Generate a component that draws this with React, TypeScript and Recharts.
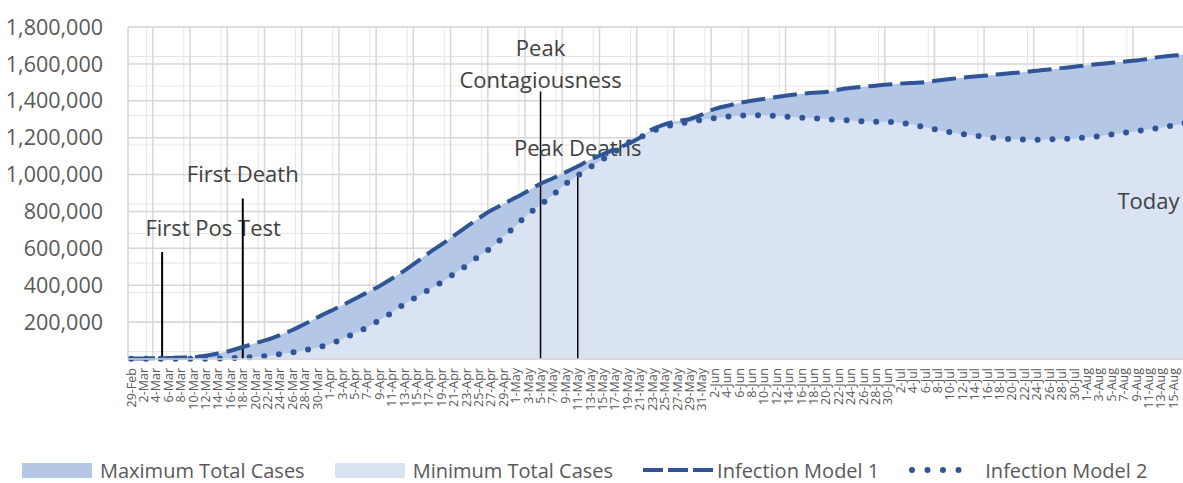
import { ComposedChart, Area, Line, XAxis, YAxis, CartesianGrid, ReferenceLine } from 'recharts';

// one label every 2 days, 29-Feb .. 17-Aug
const dateLabels = [
  '29-Feb', '2-Mar', '4-Mar', '6-Mar', '8-Mar', '10-Mar', '12-Mar', '14-Mar', '16-Mar', '18-Mar',
  '20-Mar', '22-Mar', '24-Mar', '26-Mar', '28-Mar', '30-Mar', '1-Apr', '3-Apr', '5-Apr', '7-Apr',
  '9-Apr', '11-Apr', '13-Apr', '15-Apr', '17-Apr', '19-Apr', '21-Apr', '23-Apr', '25-Apr', '27-Apr',
  '29-Apr', '1-May', '3-May', '5-May', '7-May', '9-May', '11-May', '13-May', '15-May', '17-May',
  '19-May', '21-May', '23-May', '25-May', '27-May', '29-May', '31-May', '2-Jun', '4-Jun', '6-Jun',
  '8-Jun', '10-Jun', '12-Jun', '14-Jun', '16-Jun', '18-Jun', '20-Jun', '22-Jun', '24-Jun', '26-Jun',
  '28-Jun', '30-Jun', '2-Jul', '4-Jul', '6-Jul', '8-Jul', '10-Jul', '12-Jul', '14-Jul', '16-Jul',
  '18-Jul', '20-Jul', '22-Jul', '24-Jul', '26-Jul', '28-Jul', '30-Jul', '1-Aug', '3-Aug', '5-Aug',
  '7-Aug', '9-Aug', '11-Aug', '13-Aug', '15-Aug', '17-Aug',
];

const infectionModel1 = [
  3000, 3000, 4000, 5000, 8000, 10000, 18000, 30000, 45000, 65000,
  85000, 105000, 130000, 157000, 190000, 225000, 258000, 290000, 325000, 360000,
  395000, 435000, 478000, 525000, 575000, 620000, 668000, 715000, 762000, 805000,
  840000, 875000, 912000, 950000, 980000, 1012000, 1045000, 1080000, 1110000, 1138000,
  1165000, 1200000, 1245000, 1272000, 1290000, 1300000, 1325000, 1355000, 1372000, 1388000,
  1400000, 1410000, 1420000, 1430000, 1438000, 1443000, 1448000, 1460000, 1469000, 1476000,
  1482000, 1488000, 1493000, 1497000, 1501000, 1510000, 1518000, 1525000, 1532000, 1537000,
  1544000, 1550000, 1556000, 1563000, 1570000, 1577000, 1585000, 1592000, 1600000, 1606000,
  1612000, 1618000, 1628000, 1638000, 1645000, 1650000,
];

const infectionModel2 = [
  1000, 1000, 1000, 1000, 1000, 1000, 2000, 3000, 4000, 7000,
  11000, 16000, 26000, 35000, 48000, 63000, 80000, 108000, 138000, 170000,
  210000, 250000, 297000, 336000, 376000, 415000, 460000, 505000, 555000, 602000,
  661000, 722000, 785000, 836000, 890000, 948000, 995000, 1040000, 1082000, 1125000,
  1170000, 1200000, 1235000, 1258000, 1275000, 1284000, 1297000, 1306000, 1314000, 1318000,
  1322000, 1322000, 1318000, 1313000, 1309000, 1305000, 1301000, 1297000, 1293000, 1289000,
  1286000, 1285000, 1280000, 1271000, 1256000, 1242000, 1230000, 1219000, 1212000, 1203000,
  1196000, 1192000, 1190000, 1188000, 1191000, 1192000, 1196000, 1201000, 1208000, 1217000,
  1226000, 1235000, 1245000, 1254000, 1266000, 1280000,
];

const yTicks = [0, 200000, 400000, 600000, 800000, 1000000, 1200000, 1400000, 1600000, 1800000];

// annotation: day index (days after 29-Feb), height of marker line
const events = [
  { name: ['First Pos Test'], day: 5, top: 580000, shift: 51, gap: 25, width: 2 },
  { name: ['First Death'], day: 18, top: 870000, shift: 0, gap: 26, width: 2 },
  { name: ['Peak', 'Contagiousness'], day: 66, top: 1450000, shift: 0, gap: 13, width: 1.5 },
  { name: ['Peak Deaths'], day: 72, top: 1010000, shift: 0, gap: 26, width: 1.5 },
  { name: ['Today'], day: 164, top: 720000, shift: 0, gap: 26, width: 0 },
];

const data = dateLabels.map((label, i) => ({
  day: i * 2,
  label,
  model1: infectionModel1[i],
  model2: infectionModel2[i],
  maxCases: Math.max(infectionModel1[i], infectionModel2[i]),
  minCases: Math.min(infectionModel1[i], infectionModel2[i]),
}));

const lastDay = data[data.length - 1].day;
// the last label falls past the visible edge, so it gets no tick
const dayTicks = data.map(d => d.day).filter(d => d < lastDay);
const majorGrid = Array.from({ length: lastDay / 2 + 2 }, (_, i) => i * 2 - 0.5);
const minorGrid = Array.from({ length: lastDay / 2 + 1 }, (_, i) => i * 2 + 0.5);
const minorY = Array.from({ length: 46 }, (_, i) => i * 40000);
const xDomain = [-0.5, lastDay + 1.5];

const FONT = '"Open Sans", sans-serif';
const BLUE = '#2f5597';

function DateTick({ x, y, payload }: any) {
  const label = dateLabels[payload.value / 2] ?? '';
  return (
    <text x={x} y={y + 7} transform={`rotate(-90, ${x}, ${y + 7})`} textAnchor="end" dominantBaseline="central"
      fontSize={12.5} fill="#595959" fontFamily={FONT}>
      {label}
    </text>
  );
}

const noteLabel = (lines: string[], shift: number, gap: number) => (props: any) => {
  const vb = props.viewBox || {};
  const cx = (vb.x ?? 0) + (vb.width ?? 0) / 2 + shift;
  const bottom = (vb.y ?? 0) - gap;
  return (
    <g>
      {lines.map((t, i) => (
        <text key={t} x={cx} y={bottom - (lines.length - 1 - i) * 32} textAnchor="middle" dominantBaseline="central"
          fontSize={22} fill="#404040" fontFamily={FONT}>
          {t}
        </text>
      ))}
    </g>
  );
};

function LegendItem({ icon, text, gap = 8 }: { icon: React.ReactNode; text: string; gap?: number }) {
  return (
    <div style={{ display: 'flex', alignItems: 'center', marginRight: 30 }}>
      {icon}
      <span style={{ marginLeft: gap }}>{text}</span>
    </div>
  );
}

export default function App() {
  return (
    <div style={{ position: 'absolute', left: 0, top: 0, width: 1183, height: 483, overflow: 'hidden', background: '#fff', fontFamily: FONT }}>
      <ComposedChart width={1195} height={440} data={data} margin={{ top: 27, right: 0, left: 0, bottom: 6 }}>
        <XAxis xAxisId="gMinor" type="number" dataKey="day" domain={xDomain} ticks={minorGrid} hide allowDataOverflow />
        <XAxis xAxisId="gMajor" type="number" dataKey="day" domain={xDomain} ticks={majorGrid} hide allowDataOverflow />
        <YAxis yAxisId="gMinor" domain={[0, 1800000]} ticks={minorY} hide allowDataOverflow />
        <CartesianGrid xAxisId="gMinor" yAxisId="gMinor" stroke="#e6e6e6" strokeWidth={1} />
        <CartesianGrid xAxisId="gMajor" stroke="#d6d6d6" strokeWidth={1.5} />

        <XAxis type="number" dataKey="day" domain={xDomain} ticks={dayTicks} interval={0} height={75}
          tick={<DateTick />} tickLine={false} tickSize={0} axisLine={{ stroke: '#d9d9d9', strokeWidth: 1.5 }} allowDataOverflow />
        <YAxis width={128} domain={[0, 1800000]} ticks={yTicks} interval={0} axisLine={false} tickLine={false}
          tickSize={0} tickMargin={25} tick={{ fontSize: 21.5, fill: '#595959', fontFamily: FONT }}
          tickFormatter={(v: number) => (v === 0 ? '' : v.toLocaleString('en-US'))} />

        <Area type="monotone" dataKey="maxCases" name="Maximum Total Cases" fill="#b4c7e7" fillOpacity={1} stroke="none" isAnimationActive={false} />
        <Area type="monotone" dataKey="minCases" name="Minimum Total Cases" fill="#dae3f3" fillOpacity={1} stroke="none" isAnimationActive={false} />

        {events.map(ev => (
          <ReferenceLine key={ev.name.join(' ')} segment={[{ x: ev.day, y: 0 }, { x: ev.day, y: ev.top }]}
            stroke="#000" strokeWidth={ev.width} strokeOpacity={ev.width ? 1 : 0} ifOverflow="visible"
            label={noteLabel(ev.name, ev.shift, ev.gap)} />
        ))}

        <Line type="monotone" dataKey="model1" name="Infection Model 1" stroke={BLUE} strokeWidth={4}
          strokeDasharray="24 8" dot={false} activeDot={false} isAnimationActive={false} />
        <Line type="monotone" dataKey="model2" name="Infection Model 2" stroke={BLUE} strokeWidth={6}
          strokeDasharray="0 14.8" strokeLinecap="round" dot={false} activeDot={false} isAnimationActive={false} />
      </ComposedChart>

      <div style={{ position: 'absolute', left: 22, top: 458, height: 24, display: 'flex', alignItems: 'center', fontSize: 20, color: '#595959', whiteSpace: 'nowrap' }}>
        <LegendItem icon={<div style={{ width: 70, height: 15, background: '#b4c7e7' }} />} text="Maximum Total Cases" />
        <LegendItem icon={<div style={{ width: 70, height: 15, background: '#dae3f3' }} />} text="Minimum Total Cases" />
        <LegendItem gap={4}
          icon={<svg width={70} height={10}><line x1={0} y1={5} x2={70} y2={5} stroke={BLUE} strokeWidth={4} strokeDasharray="20 5" /></svg>}
          text="Infection Model 1" />
        <LegendItem
          icon={<svg width={68} height={10}><line x1={3} y1={5} x2={65} y2={5} stroke={BLUE} strokeWidth={6} strokeDasharray="0 15.5" strokeLinecap="round" /></svg>}
          text="Infection Model 2" />
      </div>
    </div>
  );
}
